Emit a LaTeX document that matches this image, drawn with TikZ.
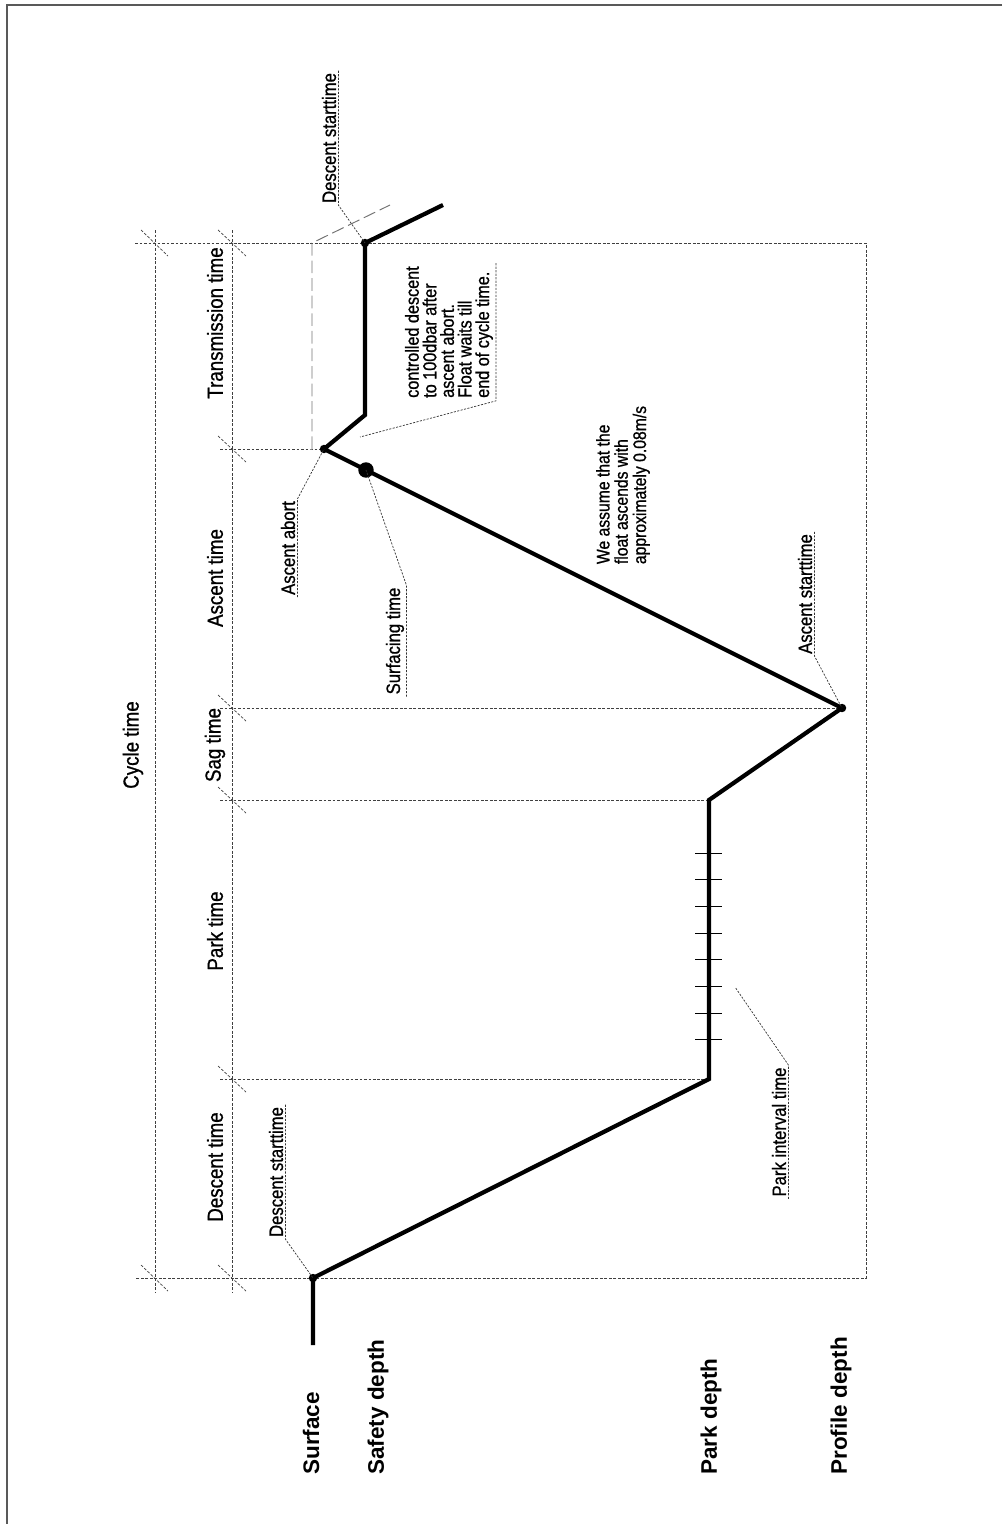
\documentclass[tikz,border=0pt]{standalone}
\usepackage{fontspec}
\setmainfont{Liberation Sans}
\newfontfamily\condfont[FakeStretch=0.86,FakeBold=0.9]{Liberation Sans}

\tikzset{
  frame/.style={line width=1.4pt, black!65},
  profile/.style={line width=3pt, line join=miter},
  guide/.style={line width=0.5pt, dash pattern=on 2pt off 1.2pt, black!75},
  leader/.style={line width=0.5pt, dash pattern=on 1.5pt off 1pt, black!80},
  ghost/.style={line width=0.7pt, dash pattern=on 9pt off 3.5pt, black!55},
  phase/.style={rotate=90, font=\condfont\fontsize{15.5}{18}\selectfont, inner sep=0pt},
  lbl/.style={rotate=90, font=\condfont\fontsize{13.8}{16}\selectfont, inner sep=1.5pt},
  note/.style={rotate=90, align=left, font=\condfont\fontsize{13.4}{12.5}\selectfont, inner sep=2pt},
  depth/.style={rotate=90, anchor=west, font=\bfseries\fontsize{16}{19}\selectfont, inner sep=0pt},
}

\begin{document}
\begin{tikzpicture}[x=0.025cm,y=-0.025cm]
    \useasboundingbox (0,0) rectangle (1002,1524);
    % page frame
    \draw[frame] (1002,5) -- (7,5) -- (7,1524);

    % points of the float path
    \coordinate (s0) at (313,1345);
    \coordinate (sd) at (313,1278);
    \coordinate (p1) at (709,1079);
    \coordinate (p2) at (709,800);
    \coordinate (pd) at (842,708);
    \coordinate (surf) at (366,470);
    \coordinate (ab) at (324,449);
    \coordinate (b1) at (365,415);
    \coordinate (ce) at (365,243);
    \coordinate (e) at (443,205);

    % dotted time grid
    \draw[guide] (135,243) -- (866,243) -- (866,1278) -- (135,1278);
    \draw[guide] (155,230) -- (155,1292);
    \draw[guide] (232,230) -- (232,1292);
    \draw[guide] (220,449) -- (312,449) -- (ab);
    \draw[guide] (220,708) -- (pd);
    \draw[guide] (220,800) -- (p2);
    \draw[guide] (220,1079) -- (p1);
    \foreach \yy in {243,1278}
        \draw[guide] (141,{\yy-13}) -- (168,{\yy+13});
    \foreach \yy in {243,449,708,800,1079,1278}
        \draw[guide] (218,{\yy-13}) -- (246,{\yy+13});

    % path if the ascent is aborted
    \draw[ghost] (312,449) -- (312,243) -- (390,205);

    % float profile
    \draw[profile] (s0) -- (sd) -- (p1) -- (p2) -- (pd) -- (ab) -- (b1) -- (ce) -- (e);
    \foreach \p in {sd,pd,ab,ce}
        \fill (\p) circle (3pt);
    \fill (surf) circle (5.5pt);

    % park interval ticks
    \foreach \k in {0,...,7}
        \draw[line width=0.6pt] (695,{853+26.7*\k}) -- (722,{853+26.7*\k});
    \coordinate (pitp) at (735,987);
    \coordinate (cdp) at (360,437);

    % phase labels
    \node[phase] (cyc) at (133,745) {Cycle time};
    \node[phase] (trt) at (215,323) {Transmission time};
    \node[phase] (act) at (215,578) {Ascent time};
    \node[phase] (sgt) at (215,745) {Sag time};
    \node[phase] (pkt) at (215,931) {Park time};
    \node[phase] (dct) at (215,1167) {Descent time};

    % event labels with leaders
    \node[lbl] (dstA) at (276,1172) {Descent starttime};
    \draw[leader] (dstA.south east) -- (dstA.south west) -- (sd);
    \node[lbl] (dstB) at (329,138) {Descent starttime};
    \draw[leader] (dstB.south east) -- (dstB.south west) -- (ce);
    \node[lbl] (aab) at (288,548) {Ascent abort};
    \draw[leader] (aab.south west) -- (aab.south east) -- (ab);
    \node[lbl] (stm) at (395,641) {Surfacing time};
    \draw[leader] (stm.south west) -- (stm.south east) -- (surf);
    \node[lbl] (ast) at (805,594) {Ascent starttime};
    \draw[leader] (ast.south east) -- (ast.south west) -- (pd);
    \node[lbl] (pit) at (779,1132) {Park interval time};
    \draw[leader] (pit.south west) -- (pit.south east) -- (pitp);

    % notes
    \node[note] (cdn) at (449,332) {controlled descent\\to 100dbar after\\ascent abort.\\Float waits till\\end of cycle time.};
    \draw[leader] (cdn.south east) -- (cdn.south west) -- (cdp);
    \node[note, font=\condfont\fontsize{13}{13}\selectfont] (asn) at (623,485) {We assume that the\\float ascends with\\approximately 0.08m/s};

    % depth levels
    \node[depth] (sfc) at (311,1475) {Surface};
    \node[depth] (sfd) at (378,1475) {Safety depth};
    \node[depth] (pkd) at (711,1475) {Park depth};
    \node[depth] (prd) at (841,1475) {Profile depth};
\end{tikzpicture}
\end{document}
